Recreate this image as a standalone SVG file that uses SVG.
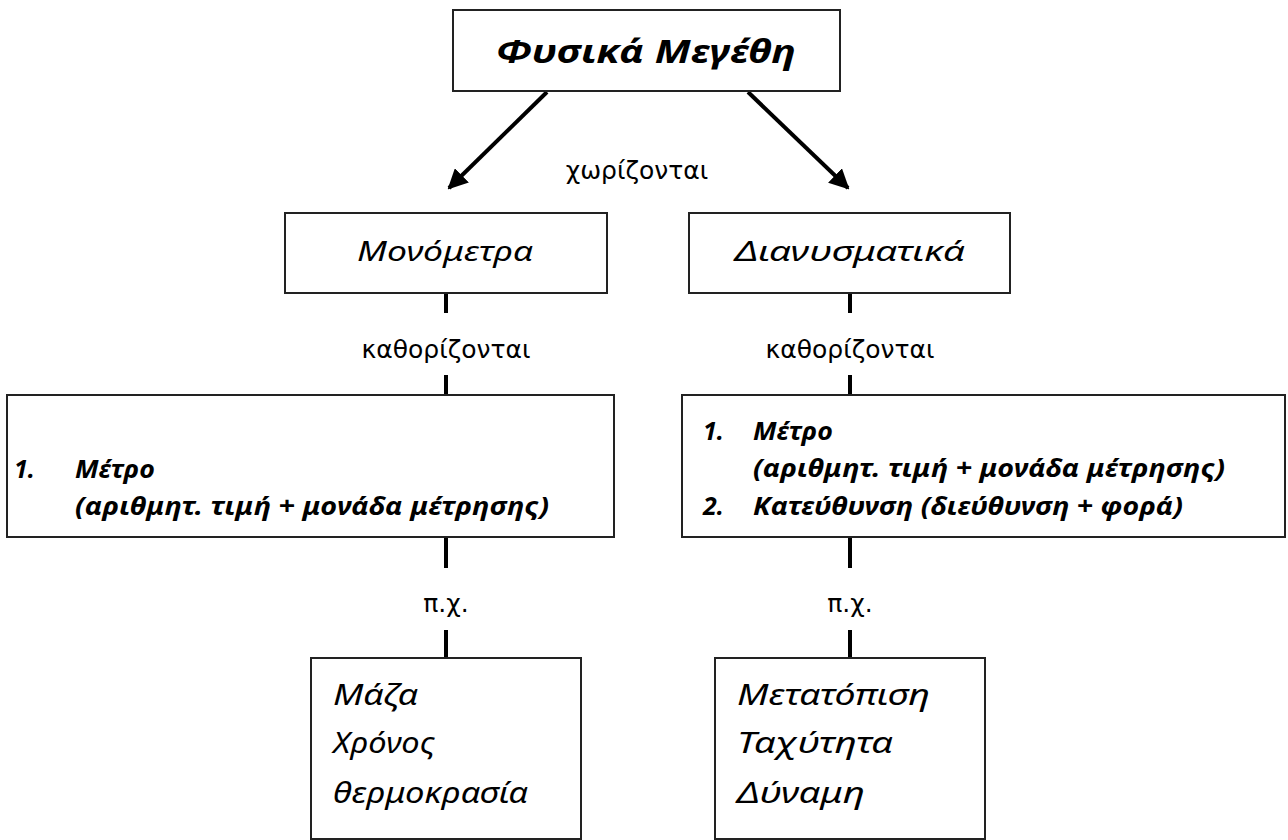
<svg xmlns="http://www.w3.org/2000/svg" width="1288" height="840" viewBox="0 0 1288 840">
<defs>
<marker id="arr" viewBox="0 0 10 10" refX="9" refY="5" markerWidth="5" markerHeight="5" markerUnits="strokeWidth" orient="auto">
<path d="M0,0 L10,5 L0,10 z" fill="#000"/>
</marker>
<style>
.box{fill:#fff;stroke:#222;stroke-width:2}
.hw{font-family:"Noto Sans","DejaVu Sans",sans-serif;font-style:italic;fill:#000}
.lst{font-size:25px;font-weight:bold}
.ex{font-size:29px}
.lbl{font-family:"DejaVu Sans","Noto Sans",sans-serif;font-size:25px;fill:#000;text-anchor:middle}
.con{stroke:#000;stroke-width:4;fill:none}
</style>
</defs>
<rect width="1288" height="840" fill="#fff"/>
<g id="connectors">
<line class="con" x1="547" y1="92" x2="449" y2="188" marker-end="url(#arr)"/>
<line class="con" x1="748" y1="92" x2="848" y2="188" marker-end="url(#arr)"/>
<line class="con" x1="446" y1="294" x2="446" y2="313"/>
<line class="con" x1="446" y1="375" x2="446" y2="395"/>
<line class="con" x1="850" y1="294" x2="850" y2="313"/>
<line class="con" x1="850" y1="375" x2="850" y2="395"/>
<line class="con" x1="446" y1="537" x2="446" y2="568"/>
<line class="con" x1="446" y1="630" x2="446" y2="658"/>
<line class="con" x1="850" y1="537" x2="850" y2="568"/>
<line class="con" x1="850" y1="630" x2="850" y2="658"/>
<text class="lbl" x="637" y="179">χωρίζονται</text>
<text class="lbl" x="446" y="358">καθορίζονται</text>
<text class="lbl" x="850" y="358">καθορίζονται</text>
<text class="lbl" x="446" y="612">π.χ.</text>
<text class="lbl" x="850" y="612">π.χ.</text>
</g>
<g id="node-physika">
<rect class="box" x="453" y="10" width="387" height="81"/>
<text class="hw" x="496" y="63" font-size="32" font-weight="bold" textLength="300" lengthAdjust="spacingAndGlyphs">Φυσικά Μεγέθη</text>
</g>
<g id="node-monometra">
<rect class="box" x="285" y="213" width="322" height="80"/>
<text class="hw" x="357" y="261" font-size="28" textLength="176" lengthAdjust="spacingAndGlyphs">Μονόμετρα</text>
</g>
<g id="node-dianysmatika">
<rect class="box" x="689" y="213" width="321" height="80"/>
<text class="hw" x="735" y="261" font-size="28" textLength="230" lengthAdjust="spacingAndGlyphs">Διανυσματικά</text>
</g>
<g id="node-monometra-def">
<rect class="box" x="7" y="395" width="607" height="142"/>
<text class="hw lst" x="14" y="478">1.</text>
<text class="hw lst" x="75" y="478" textLength="80" lengthAdjust="spacingAndGlyphs">Μέτρο</text>
<text class="hw lst" x="75" y="515" textLength="474" lengthAdjust="spacingAndGlyphs">(αριθμητ. τιμή + μονάδα μέτρησης)</text>
</g>
<g id="node-dianysmatika-def">
<rect class="box" x="682" y="395" width="603" height="142"/>
<text class="hw lst" x="703" y="440">1.</text>
<text class="hw lst" x="753" y="440" textLength="80" lengthAdjust="spacingAndGlyphs">Μέτρο</text>
<text class="hw lst" x="753" y="477" textLength="472" lengthAdjust="spacingAndGlyphs">(αριθμητ. τιμή + μονάδα μέτρησης)</text>
<text class="hw lst" x="703" y="515">2.</text>
<text class="hw lst" x="753" y="515" textLength="430" lengthAdjust="spacingAndGlyphs">Κατεύθυνση (διεύθυνση + φορά)</text>
</g>
<g id="node-monometra-ex">
<rect class="box" x="311" y="658" width="270" height="181"/>
<text class="hw ex" x="333" y="705" textLength="85" lengthAdjust="spacingAndGlyphs">Μάζα</text>
<text class="hw ex" x="333" y="753" textLength="102" lengthAdjust="spacingAndGlyphs">Χρόνος</text>
<text class="hw ex" x="333" y="803" textLength="195" lengthAdjust="spacingAndGlyphs">θερμοκρασία</text>
</g>
<g id="node-dianysmatika-ex">
<rect class="box" x="715" y="658" width="270" height="181"/>
<text class="hw ex" x="737" y="705" textLength="193" lengthAdjust="spacingAndGlyphs">Μετατόπιση</text>
<text class="hw ex" x="737" y="753" textLength="156" lengthAdjust="spacingAndGlyphs">Ταχύτητα</text>
<text class="hw ex" x="737" y="803" textLength="128" lengthAdjust="spacingAndGlyphs">Δύναμη</text>
</g>
</svg>
